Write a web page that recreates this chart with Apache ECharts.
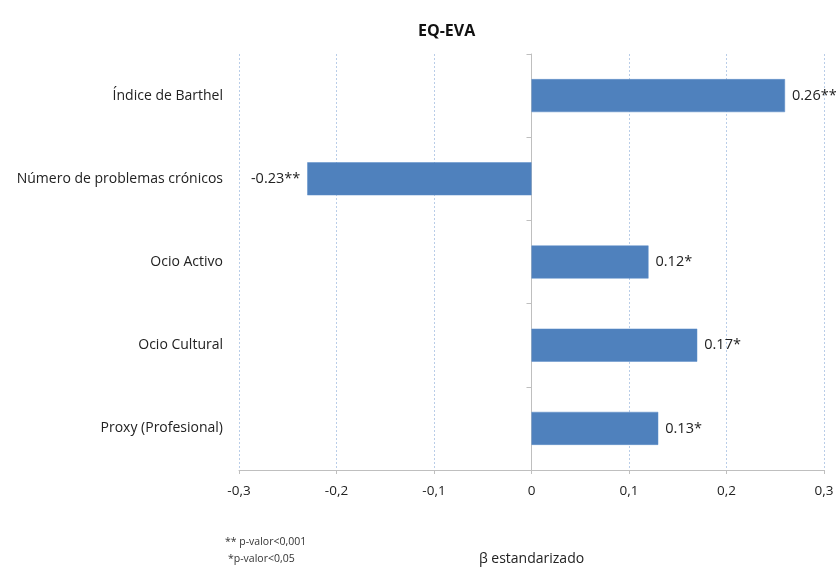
<!DOCTYPE html>
<html>
<head>
<meta charset="utf-8">
<script src="https://cdn.jsdelivr.net/npm/echarts@6/dist/echarts.min.js"></script>
<style>
html,body{margin:0;padding:0;background:#fff;}
#chart{width:836px;height:568px;}
</style>
</head>
<body>
<div id="chart"></div>
<script>
const categories = ['Índice de Barthel', 'Número de problemas crónicos', 'Ocio Activo', 'Ocio Cultural', 'Proxy (Profesional)'];
const betas = [0.26, -0.23, 0.12, 0.17, 0.13];
const significance = ['**', '**', '*', '*', '*'];
const xMin = -0.3, xMax = 0.3, xStep = 0.1;
const titleText = 'EQ-EVA';
const axisTitle = 'β estandarizado';
const footnotes = ['** p-valor<0,001', '*p-valor<0,05'];

const FONT = '"Open Sans", "Noto Sans", sans-serif';
const chart = echarts.init(document.getElementById('chart'));

const seriesData = betas.map((v, i) => ({
  value: v,
  label: { position: v < 0 ? 'left' : 'right' }
}));

chart.setOption({
  animation: false,
  backgroundColor: '#fff',
  title: {
    text: titleText,
    left: 413,
    top: 18,
    textStyle: { fontFamily: FONT, fontSize: 16, fontWeight: 'bold', color: '#111' }
  },
  grid: { left: 239, right: 12, top: 54, bottom: 98, containLabel: false, outerBoundsMode: 'none' },
  xAxis: {
    type: 'value',
    min: xMin, max: xMax, interval: xStep,
    name: axisTitle,
    nameLocation: 'middle',
    nameGap: 82,
    nameTextStyle: { fontFamily: FONT, fontSize: 14, color: '#222' },
    axisLine: { show: true, lineStyle: { color: '#bfbfbf', width: 1 } },
    axisTick: { show: true, length: 4, lineStyle: { color: '#bfbfbf' } },
    axisLabel: {
      margin: 14,
      fontFamily: FONT, fontSize: 13.5, color: '#222',
      formatter: v => {
        const r = Math.round(v * 10) / 10;
        return r === 0 ? '0' : r.toFixed(1).replace('.', ',');
      }
    },
    splitLine: { show: true, lineStyle: { color: '#b9cde8', type: [2, 2], width: 1 } }
  },
  yAxis: [
    {
      type: 'category',
      data: categories,
      inverse: true,
      position: 'left',
      axisLine: { show: false, onZero: false },
      axisTick: { show: false },
      axisLabel: { margin: 16, fontFamily: FONT, fontSize: 14, color: '#222' }
    },
    {
      type: 'category',
      data: categories,
      inverse: true,
      position: 'left',
      axisLine: { show: true, onZero: true, lineStyle: { color: '#bfbfbf', width: 1 } },
      axisTick: { show: true, length: 5, lineStyle: { color: '#bfbfbf' } },
      axisLabel: { show: false }
    }
  ],
  series: [{
    type: 'bar',
    yAxisIndex: 0,
    data: seriesData,
    barWidth: 33,
    itemStyle: { color: '#4f81bd', borderColor: '#5b8cc8', borderWidth: 0.5 },
    label: {
      show: true,
      distance: 7,
      fontFamily: FONT, fontSize: 14.5, color: '#222',
      formatter: p => p.value.toFixed(2) + significance[p.dataIndex]
    }
  }],
  graphic: [
    { type: 'text', left: 225, top: 537, style: { text: footnotes[0], fontFamily: FONT, fontSize: 10.5, fill: '#333' } },
    { type: 'text', left: 228, top: 554, style: { text: footnotes[1], fontFamily: FONT, fontSize: 10.5, fill: '#333' } }
  ]
});
</script>
</body>
</html>
